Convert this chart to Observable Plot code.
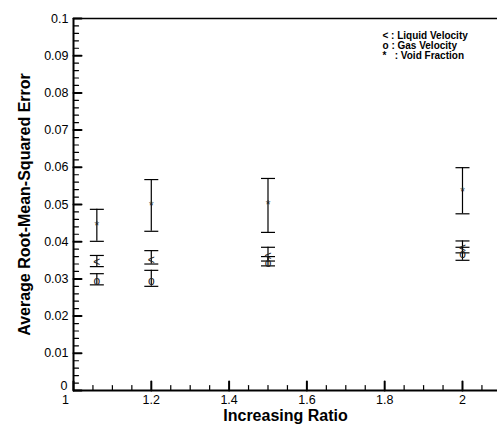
<!DOCTYPE html>
<html>
<head>
<meta charset="utf-8">
<script src="https://cdn.jsdelivr.net/npm/d3@7"></script>
<script src="https://cdn.jsdelivr.net/npm/@observablehq/plot@0.6"></script>
<style>
  html, body { margin: 0; padding: 0; background: #fff; }
  svg { display: block; }
</style>
</head>
<body>
<div id="chart"></div>
<script>
const ratios   = [1.06, 1.2, 1.5, 2.0];
const liquid   = [0.0348, 0.0354, 0.0365, 0.0385];
const liquidLo = [0.0333, 0.0340, 0.0348, 0.0370];
const liquidHi = [0.0363, 0.0376, 0.0385, 0.0402];
const gas      = [0.0296, 0.0296, 0.0345, 0.0368];
const gasLo    = [0.0284, 0.0280, 0.0335, 0.0350];
const gasHi    = [0.0314, 0.0323, 0.0360, 0.0385];
const voidF    = [0.0444, 0.0499, 0.0500, 0.0537];
const voidLo   = [0.0401, 0.0428, 0.0425, 0.0475];
const voidHi   = [0.0487, 0.0567, 0.0570, 0.0599];

const seriesNames = ["Liquid Velocity", "Gas Velocity", "Void Fraction"];
const seriesGlyphs = ["<", "o", "*"];
const legendLines = ["<\u00a0: Liquid Velocity", "o\u00a0: Gas Velocity", "*\u00a0\u00a0\u00a0: Void Fraction"];

const xMajor = [1, 1.2, 1.4, 1.6, 1.8, 2];
const xMinor = d3.range(1, 2.09, 0.05).map(v => +v.toFixed(2)).filter(v => !xMajor.some(m => Math.abs(m - v) < 1e-9));
const yMajor = [0, 0.01, 0.02, 0.03, 0.04, 0.05, 0.06, 0.07, 0.08, 0.09, 0.1];
const yMinor = d3.range(0, 0.1001, 0.002).map(v => +v.toFixed(3)).filter(v => !yMajor.some(m => Math.abs(m - v) < 1e-9));

const rows = [];
const series = [[liquid, liquidLo, liquidHi], [gas, gasLo, gasHi], [voidF, voidLo, voidHi]];
series.forEach(([v, lo, hi], s) => {
  ratios.forEach((r, i) => rows.push({series: seriesNames[s], glyph: seriesGlyphs[s], x: r, y: v[i], lo: lo[i], hi: hi[i]}));
});
const caps = rows.flatMap(d => [{x: d.x, y: d.lo}, {x: d.x, y: d.hi}]);

const hLine = { draw(ctx, size) { const r = Math.sqrt(size / Math.PI); ctx.moveTo(-r, 0); ctx.lineTo(r, 0); } };
const tickShape = { draw(ctx, l) { ctx.moveTo(0, 0); ctx.lineTo(0, -l); } };

const font = "Liberation Sans, Arial, sans-serif";
const yFmt = d => d === 0 ? "0" : String(+d.toFixed(2));
const xFmt = d => String(+d.toFixed(1));

const plot = Plot.plot({
  width: 497,
  height: 426,
  marginLeft: 73,
  marginRight: 0,
  marginTop: 18,
  marginBottom: 36,
  style: { fontFamily: font, fontSize: "12px", color: "#000", background: "#fff" },
  x: { domain: [1, 2.09] },
  y: { domain: [0, 0.1] },
  marks: [
    Plot.axisY({ ticks: yMajor.slice(1), tickSize: 0, tickPadding: 5, label: null, fontSize: 12.5, tickFormat: yFmt }),
    Plot.axisY({ ticks: [0], tickSize: 0, tickPadding: 5, label: null, fontSize: 12.5, tickFormat: yFmt, dy: -5, dx: -1 }),
    Plot.axisX({ ticks: xMajor.slice(1), tickSize: 0, tickPadding: 5, label: null, fontSize: 12.5, tickFormat: xFmt }),
    Plot.axisX({ ticks: [1], tickSize: 0, tickPadding: 5, label: null, fontSize: 12.5, tickFormat: xFmt, dx: -8 }),
    Plot.vector(yMajor, { x: () => 1, y: d => d, length: 8, rotate: 90, anchor: "start", shape: tickShape, stroke: "#000", strokeWidth: 2 }),
    Plot.vector(yMinor, { x: () => 1, y: d => d, length: 5, rotate: 90, anchor: "start", shape: tickShape, stroke: "#000", strokeWidth: 1.2 }),
    Plot.vector(xMajor, { x: d => d, y: () => 0, length: 9, rotate: 0, anchor: "start", shape: tickShape, stroke: "#000", strokeWidth: 2 }),
    Plot.vector(xMinor, { x: d => d, y: () => 0, length: 5, rotate: 0, anchor: "start", shape: tickShape, stroke: "#000", strokeWidth: 1.2 }),
    Plot.ruleY([0.1], { stroke: "#000", strokeWidth: 1.5 }),
    Plot.ruleY([0], { stroke: "#000", strokeWidth: 2 }),
    Plot.ruleX([1], { stroke: "#000", strokeWidth: 2 }),
    Plot.ruleX(rows, { x: "x", y1: "lo", y2: "hi", stroke: "#000", strokeWidth: 1.2 }),
    Plot.dot(caps, { x: "x", y: "y", r: 7, symbol: hLine, stroke: "#000", strokeWidth: 1.2 }),
    Plot.text(rows, { x: "x", y: "y", text: "glyph", fontSize: 12, fill: "#222", dy: 1 }),
    Plot.text([legendLines.join("\n")], { frameAnchor: "top-left", text: d => d, textAnchor: "start", lineAnchor: "top",
      lineHeight: 1.0, dx: 309, dy: 13, fontSize: 10, fontWeight: "bold", fill: "#000" }),
    Plot.text(["Increasing Ratio"], { frameAnchor: "bottom", text: d => d, dy: 30, fontSize: 16, fontWeight: "bold", fill: "#000" }),
    Plot.text(["Average Root-Mean-Squared Error"], { frameAnchor: "left", text: d => d, textAnchor: "middle", rotate: -90, dx: -49, fontSize: 16, fontWeight: "bold", fill: "#000" })
  ]
});
document.getElementById("chart").appendChild(plot);
</script>
</body>
</html>
